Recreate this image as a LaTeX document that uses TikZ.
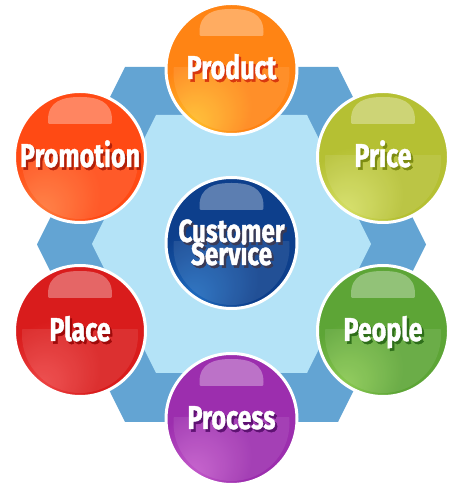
\documentclass[tikz,border=0pt]{standalone}
\usepackage{fontspec}
\newfontfamily\lblfont{Fira Sans}[FakeStretch=0.76, FakeBold=1.2]
\usetikzlibrary{calc}
\definecolor{hexout}{RGB}{99,164,211}
\definecolor{hexin}{RGB}{180,227,247}
% ball colours: spot / main / edge
\definecolor{prodS}{HTML}{FFC02A}\definecolor{prodM}{HTML}{FF8414}\definecolor{prodE}{HTML}{F25A05}
\definecolor{promS}{HTML}{FF7A3A}\definecolor{promM}{HTML}{FF4A14}\definecolor{promE}{HTML}{E8300A}
\definecolor{pricS}{HTML}{D6E065}\definecolor{pricM}{HTML}{B5C033}\definecolor{pricE}{HTML}{98A81C}
\definecolor{custS}{HTML}{1F6CC0}\definecolor{custM}{HTML}{0D3F8C}\definecolor{custE}{HTML}{082D6E}
\definecolor{placS}{HTML}{EE4444}\definecolor{placM}{HTML}{D91C1C}\definecolor{placE}{HTML}{C21212}
\definecolor{peopS}{HTML}{8CCB52}\definecolor{peopM}{HTML}{5DA536}\definecolor{peopE}{HTML}{3F8A22}
\definecolor{procS}{HTML}{C45ACB}\definecolor{procM}{HTML}{9C2EAE}\definecolor{procE}{HTML}{7A1A92}
% text shadow colours
\definecolor{prodT}{HTML}{D8380F}
\definecolor{promT}{HTML}{B0200A}
\definecolor{pricT}{HTML}{7D8C12}
\definecolor{custT}{HTML}{3A3A55}
\definecolor{placT}{HTML}{9E0A0A}
\definecolor{peopT}{HTML}{2E6E1A}
\definecolor{procT}{HTML}{5E1272}
\pgfdeclareradialshading{shprod}{\pgfpoint{-16bp}{-22bp}}{color(0bp)=(prodS); color(18bp)=(prodM); color(38bp)=(prodM); color(50bp)=(prodE)}
\pgfdeclareradialshading{shprom}{\pgfpoint{-16bp}{-22bp}}{color(0bp)=(promS); color(18bp)=(promM); color(38bp)=(promM); color(50bp)=(promE)}
\pgfdeclareradialshading{shpric}{\pgfpoint{-16bp}{-22bp}}{color(0bp)=(pricS); color(18bp)=(pricM); color(38bp)=(pricM); color(50bp)=(pricE)}
\pgfdeclareradialshading{shcust}{\pgfpoint{-16bp}{-22bp}}{color(0bp)=(custS); color(20bp)=(custM); color(38bp)=(custM); color(50bp)=(custE)}
\pgfdeclareradialshading{shplac}{\pgfpoint{-16bp}{-22bp}}{color(0bp)=(placS); color(18bp)=(placM); color(38bp)=(placM); color(50bp)=(placE)}
\pgfdeclareradialshading{shpeop}{\pgfpoint{-16bp}{-22bp}}{color(0bp)=(peopS); color(18bp)=(peopM); color(38bp)=(peopM); color(50bp)=(peopE)}
\pgfdeclareradialshading{shproc}{\pgfpoint{-16bp}{-22bp}}{color(0bp)=(procS); color(18bp)=(procM); color(38bp)=(procM); color(50bp)=(procE)}
\tikzset{
  ball/.style={circle, draw=white, line width=3pt, minimum size=131pt, inner sep=0pt},
  lbl/.style={anchor=base, inner sep=0pt, text=white, font=\lblfont\bfseries\fontsize{33}{33}\selectfont},
  gloss/.style={white, opacity=0.33},
  band/.style={white, opacity=0.09},
}
\newcommand\shadowed[2]{\rlap{\kern2.2pt\raisebox{-2.6pt}{\textcolor{#1}{#2}}}#2}
\newcommand\balldeco[1]{%
  \begin{scope}[shift={(#1.center)}]
    \begin{scope}
      \clip (0,-4) circle (58);
      \fill[band] (-70,2) rectangle (70,-70);
    \end{scope}
    \fill[gloss] (-32,37) .. controls (-32,56) and (-17,60) .. (0,60)
      .. controls (17,60) and (32,56) .. (32,37)
      .. controls (32,33) .. (28,33) -- (-28,33)
      .. controls (-32,33) .. (-32,37) -- cycle;
  \end{scope}}
\newcommand\balltext[4]{% node, shadow colour, text, y offset
  \node[lbl] (#1tx) at ($(#1.center)+(0,#4)$) {\shadowed{#2}{#3}};}
\begin{document}
\begin{tikzpicture}[x=1pt,y=1pt]
\useasboundingbox (0,0) rectangle (453,500);
% hexagons
\fill[hexout] (37,255.5) -- (125,433) -- (338,433) -- (426,255.5) -- (338,78) -- (125,78) -- cycle;
\fill[hexin] (92,256) -- (156,385) -- (307,385) -- (371,256) -- (307,127) -- (156,127) -- cycle;
% balls
\node[ball, shading=shprod] (product) at (231.5,431) {};
\node[ball, shading=shprom] (promotion) at (80,343) {};
\node[ball, shading=shpric] (price) at (383,343) {};
\node[ball, shading=shcust] (customer) at (231.5,257) {};
\node[ball, shading=shplac] (place) at (80,169) {};
\node[ball, shading=shpeop] (people) at (383,169) {};
\node[ball, shading=shproc] (process) at (231.5,81) {};
\balldeco{product}\balldeco{promotion}\balldeco{price}\balldeco{customer}
\balldeco{place}\balldeco{people}\balldeco{process}
\balltext{product}{prodT}{Product}{-10}
\balltext{promotion}{promT}{Promotion}{-10}
\balltext{price}{pricT}{Price}{-10}
\balltext{place}{placT}{Place}{-10}
\balltext{people}{peopT}{People}{-10}
\balltext{process}{procT}{Process}{-10}
\node[lbl, font=\lblfont\bfseries\fontsize{32}{32}\selectfont] (custA) at ($(customer.center)+(0,1)$) {\shadowed{custT}{Customer}};
\node[lbl, font=\lblfont\bfseries\fontsize{32}{32}\selectfont] (custB) at ($(customer.center)+(0,-22)$) {\shadowed{custT}{Service}};
\end{tikzpicture}
\end{document}
